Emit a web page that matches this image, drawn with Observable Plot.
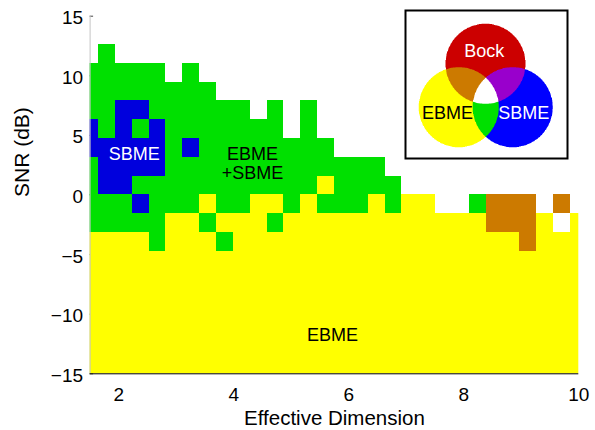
<!DOCTYPE html>
<html>
<head>
<meta charset="utf-8">
<script src="https://cdn.jsdelivr.net/npm/d3@7"></script>
<script src="https://cdn.jsdelivr.net/npm/@observablehq/plot@0.6"></script>
<style>
  html, body { margin: 0; padding: 0; background: #fff; }
  #wrap { position: relative; width: 595px; height: 430px; overflow: hidden; }
  #legend { position: absolute; left: 404px; top: 9px; }
</style>
</head>
<body>
<div id="wrap"><div id="legend"></div></div>
<script>
// ---- data ----
const effectiveDimension = [1.5, 1.793, 2.086, 2.379, 2.672, 2.966, 3.259, 3.552, 3.845, 4.138,
  4.431, 4.724, 5.017, 5.310, 5.603, 5.897, 6.190, 6.483, 6.776, 7.069,
  7.362, 7.655, 7.948, 8.241, 8.534, 8.828, 9.121, 9.414, 9.707, 10.0];
const snrDb = [-15, -13.421, -11.842, -10.263, -8.684, -7.105, -5.526, -3.947, -2.368, -0.789,
  0.789, 2.368, 3.947, 5.526, 7.105, 8.684, 10.263, 11.842, 13.421, 15];

// Which methods succeed: W none, Y EBME, G EBME+SBME, B SBME, O Bock+EBME
const categoryCodes = ["Y", "G", "B", "O"];
const categoryNames = ["EBME", "EBME+SBME", "SBME", "Bock+EBME"];
// rows from SNR = 15 dB (top) down to SNR = -15 dB (bottom); columns follow effectiveDimension
const gridRows = [
  "WWWWWWWWWWWWWWWWWWWWWWWWWWWWWW",
  "WWWWWWWWWWWWWWWWWWWWWWWWWWWWWW",
  "WGWWWWWWWWWWWWWWWWWWWWWWWWWWWW",
  "GGGGGWGWWWWWWWWWWWWWWWWWWWWWWW",
  "GGGGGGGGWWWWWWWWWWWWWWWWWWWWWW",
  "GGBBGGGGGGWGWGWWWWWWWWWWWWWWWW",
  "BGBGBGGGGGGGWGWWWWWWWWWWWWWWWW",
  "BBBBBGBGGGGGGGGWWWWWWWWWWWWWWW",
  "GBBBBGGGGGGGGGGGGGWWWWWWWWWWWW",
  "GBBGGGGGGGGGGGYGGGGWWWWWWWWWWW",
  "GGGBGGGYGGYYGYGGGYGYYWWGOOOWOW",
  "GGGGGYYGYYYGYYYYYYYYYYYYOOOYWY",
  "YYYYGYYYGYYYYYYYYYYYYYYYYYOYYY",
  "YYYYYYYYYYYYYYYYYYYYYYYYYYYYYY",
  "YYYYYYYYYYYYYYYYYYYYYYYYYYYYYY",
  "YYYYYYYYYYYYYYYYYYYYYYYYYYYYYY",
  "YYYYYYYYYYYYYYYYYYYYYYYYYYYYYY",
  "YYYYYYYYYYYYYYYYYYYYYYYYYYYYYY",
  "YYYYYYYYYYYYYYYYYYYYYYYYYYYYYY",
  "YYYYYYYYYYYYYYYYYYYYYYYYYYYYYY"
];

const xTicks = [2, 4, 6, 8, 10];
const yTicks = [-15, -10, -5, 0, 5, 10, 15];
const xLabel = "Effective Dimension";
const yLabel = "SNR (dB)";

const regionLabels = ["SBME", "EBME\n+SBME", "EBME"];
const regionLabelX = [2.267, 4.324, 5.716];
const regionLabelY = [2.95, 1.36, -12.21];

const vennNames = ["Bock", "EBME", "SBME"];

// ---- styles ----
const categoryColors = ["#ffff00", "#00e000", "#0000dd", "#cc7a00"];
const regionLabelColors = ["white", "black", "black"];
const font = "'Liberation Sans', Arial, Helvetica, sans-serif";

// ---- build cells ----
const hx = (effectiveDimension[1] - effectiveDimension[0]) / 2;
const hy = (snrDb[1] - snrDb[0]) / 2;
const cells = [];
gridRows.forEach((row, r) => {
  const j = snrDb.length - 1 - r;
  [...row].forEach((code, i) => {
    if (code !== "W") cells.push({x: effectiveDimension[i], y: snrDb[j], code});
  });
});

const main = Plot.plot({
  width: 595,
  height: 430,
  marginLeft: 89.6,
  marginRight: 16.7,
  marginTop: 15.7,
  marginBottom: 56.7,
  style: {fontFamily: font, fontSize: "19px", background: "white", color: "black", overflow: "visible"},
  x: {domain: [effectiveDimension[0], effectiveDimension[effectiveDimension.length - 1]]},
  y: {domain: [yTicks[0], yTicks[yTicks.length - 1]]},
  color: {domain: categoryCodes, range: categoryColors},
  marks: [
    Plot.axisY({ticks: yTicks, tickSize: -3.5, fill: "none", stroke: "#444", label: null}),
    Plot.rect(cells, {
      x1: d => d.x - hx, x2: d => d.x + hx,
      y1: d => d.y - hy, y2: d => d.y + hy,
      fill: "code", clip: true, shapeRendering: "crispEdges"
    }),
    Plot.ruleX([effectiveDimension[0]], {stroke: "#c4c4c4"}),
    Plot.ruleY([yTicks[0]], {stroke: "black"}),
    Plot.axisX({ticks: xTicks, tickSize: 0, tickPadding: 14, label: null, fontSize: 19}),
    Plot.axisY({ticks: yTicks, tickSize: 0, tickPadding: 7, label: null, fontSize: 19, dy: 2}),
    Plot.text(regionLabels, {
      x: (d, i) => regionLabelX[i], y: (d, i) => regionLabelY[i], text: d => d,
      fill: (d, i) => regionLabelColors[i], fontSize: 18, lineAnchor: "bottom", lineHeight: 1.056
    }),
    Plot.text([xLabel], {frameAnchor: "bottom", dy: 51.5, lineAnchor: "bottom", fontSize: 20.5, text: d => d}),
    Plot.text([yLabel], {frameAnchor: "left", rotate: -90, dx: -61.3, dy: 2, lineAnchor: "bottom", fontSize: 21, text: d => d})
  ]
});
document.getElementById("wrap").insertBefore(main, document.getElementById("legend"));

// ---- Venn legend ----
const LW = 164, LH = 150;
const vennCircles = [
  {cx: 81, cy: 54.3, r: 40},   // Bock
  {cx: 54.3, cy: 97.7, r: 40}, // EBME
  {cx: 108.2, cy: 97.7, r: 40} // SBME
];
const vennColors = {
  "100": "#cc0000", "010": "#ffff00", "001": "#0000ff",
  "110": "#cc7a00", "101": "#9900cc", "011": "#00e000",
  "111": "#ffffff", "000": "#ffffff"
};
const vennTextPos = [[79.7, 47.7], [43, 109.3], [119.3, 109.3]];
const vennTextColors = ["white", "black", "white"];
function vennFill(x, y) {
  const key = vennCircles.map(c => ((x - c.cx) ** 2 + (y - c.cy) ** 2 <= c.r * c.r ? "1" : "0")).join("");
  return vennColors[key];
}
const legend = Plot.plot({
  width: LW, height: LH, margin: 0,
  style: {fontFamily: font, background: "white", overflow: "visible"},
  x: {domain: [0, LW], axis: null},
  y: {domain: [0, LH], reverse: true, axis: null},
  marks: [
    Plot.raster({x1: 0, x2: LW, y1: 0, y2: LH, width: LW * 3, height: LH * 3, fill: vennFill, imageRendering: "auto"}),
    Plot.text(vennNames, {
      x: (d, i) => vennTextPos[i][0], y: (d, i) => vennTextPos[i][1], text: d => d,
      fill: (d, i) => vennTextColors[i], fontSize: 18, lineAnchor: "bottom"
    }),
    Plot.frame({stroke: "black", strokeWidth: 2, inset: 1})
  ]
});
document.getElementById("legend").appendChild(legend);
</script>
</body>
</html>
